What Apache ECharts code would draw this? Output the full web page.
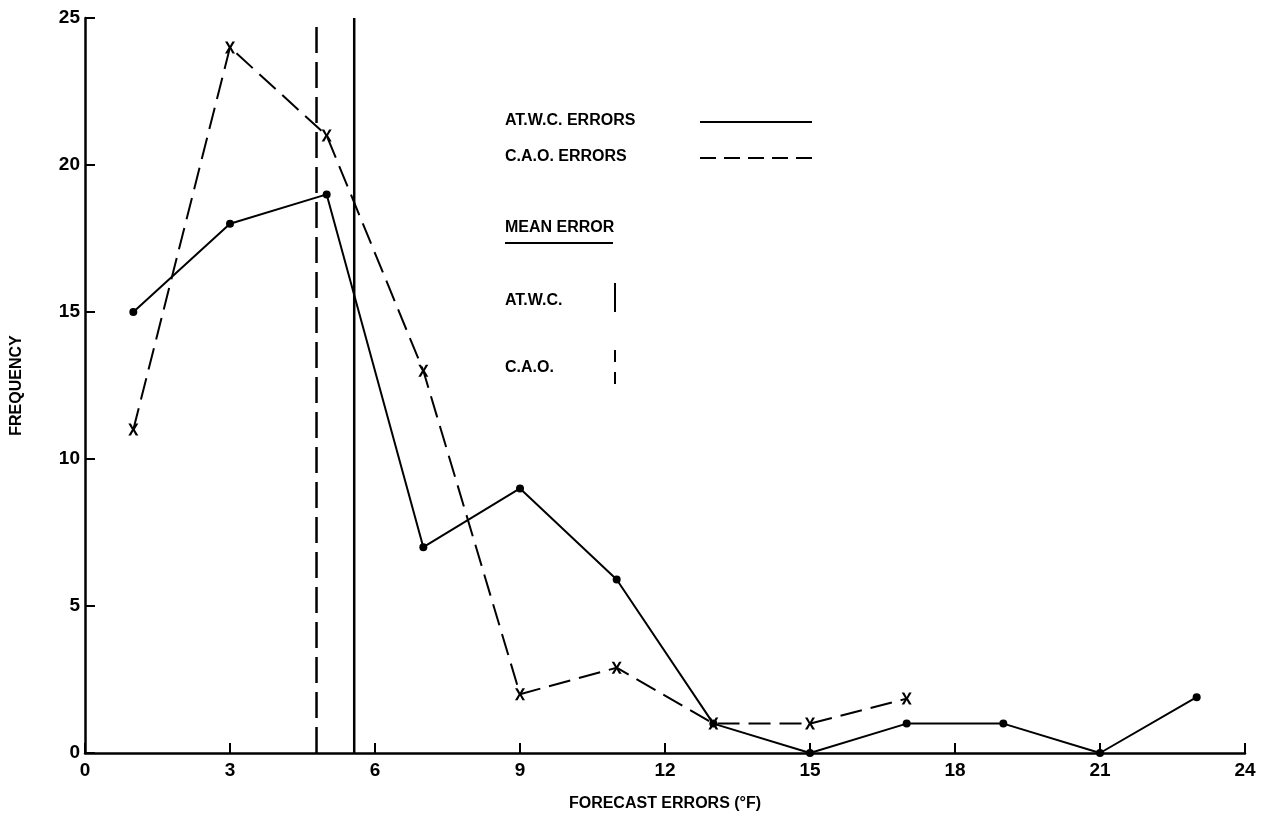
<!DOCTYPE html>
<html><head><meta charset="utf-8">
<script src="https://cdn.jsdelivr.net/npm/echarts@6/dist/echarts.min.js"></script>
<style>html,body{margin:0;padding:0;background:#fff}#c{width:1270px;height:819px}</style>
</head><body><div id="c"></div>
<script>
// Data
const errorBins = [1, 3, 5, 7, 9, 11, 13, 15, 17, 19, 21, 23];
const atwcFreq  = [15, 18, 19, 7, 9, 5.9, 1, 0, 1, 1, 0, 1.9];
const caoBins   = [1, 3, 5, 7, 9, 11, 13, 15, 17];
const caoFreq   = [11, 24, 21, 13, 2, 2.9, 1, 1, 1.85];
const meanAtwc  = 5.57;
const meanCao   = 4.79;
const xTicks    = [0, 3, 6, 9, 12, 15, 18, 21, 24];
const yTicks    = [0, 5, 10, 15, 20, 25];

const FONT = 'Liberation Sans';
const XSYM = 'path://M0,0 L2.6,0 L5,4.0 L7.4,0 L10,0 L6.4,5.5 L10,11 L7.4,11 L5,7.0 L2.6,11 L0,11 L3.6,5.5 Z';

const chart = echarts.init(document.getElementById('c'));
chart.setOption({
  animation: false,
  backgroundColor: '#fff',
  textStyle: { fontFamily: FONT, color: '#000' },
  grid: { left: 85, right: 25, top: 18, bottom: 66 },
  xAxis: {
    type: 'value', min: 0, max: 24, interval: 3,
    name: 'FORECAST ERRORS (°F)', nameLocation: 'middle', nameGap: 43,
    nameTextStyle: { fontFamily: FONT, fontSize: 16, fontWeight: 'bold', color: '#000' },
    axisLine: { lineStyle: { color: '#000', width: 2.5 } },
    axisTick: { inside: true, length: 10, lineStyle: { color: '#000', width: 2 } },
    axisLabel: { fontFamily: FONT, fontSize: 19, fontWeight: 'bold', color: '#000', margin: 8,
      formatter: v => xTicks.includes(v) ? String(v) : '' },
    splitLine: { show: false }
  },
  yAxis: {
    type: 'value', min: 0, max: 25, interval: 5,
    name: 'FREQUENCY', nameLocation: 'middle', nameGap: 60, nameRotate: 90,
    nameTextStyle: { fontFamily: FONT, fontSize: 16, fontWeight: 'bold', color: '#000' },
    axisLine: { lineStyle: { color: '#000', width: 2.5 } },
    axisTick: { inside: true, length: 10, lineStyle: { color: '#000', width: 2 } },
    axisLabel: { fontFamily: FONT, fontSize: 19, fontWeight: 'bold', color: '#000', margin: 5,
      formatter: v => yTicks.includes(v) ? String(v) : '' },
    splitLine: { show: false }
  },
  series: [
    {
      name: 'AT.W.C. ERRORS', type: 'line',
      data: errorBins.map((x, i) => [x, atwcFreq[i]]),
      symbol: 'circle', symbolSize: 8,
      itemStyle: { color: '#000' },
      lineStyle: { color: '#000', width: 2 }
    },
    {
      name: 'C.A.O. ERRORS', type: 'line',
      data: caoBins.map((x, i) => [x, caoFreq[i]]),
      symbol: XSYM, symbolSize: [10, 12],
      itemStyle: { color: '#000' },
      lineStyle: { color: '#000', width: 2, type: [22, 9] }
    },
    {
      name: 'mean atwc', type: 'line',
      data: [[meanAtwc, 0], [meanAtwc, 25]],
      symbol: 'none',
      lineStyle: { color: '#000', width: 2.5 }
    },
    {
      name: 'mean cao', type: 'line',
      data: [[meanCao, 0], [meanCao, 25]],
      symbol: 'none',
      lineStyle: { color: '#000', width: 2.5, type: [26, 9] }
    }
  ],
  graphic: [
    { type: 'text', left: 505, top: 113, style: { text: 'AT.W.C. ERRORS', font: 'bold 16px ' + FONT, fill: '#000' } },
    { type: 'line', shape: { x1: 700, y1: 122, x2: 812, y2: 122 }, style: { stroke: '#000', lineWidth: 2 } },
    { type: 'text', left: 505, top: 149, style: { text: 'C.A.O. ERRORS', font: 'bold 16px ' + FONT, fill: '#000' } },
    { type: 'line', shape: { x1: 700, y1: 158, x2: 812, y2: 158 }, style: { stroke: '#000', lineWidth: 2, lineDash: [16, 8] } },
    { type: 'text', left: 505, top: 220, style: { text: 'MEAN ERROR', font: 'bold 16px ' + FONT, fill: '#000' } },
    { type: 'line', shape: { x1: 505, y1: 243, x2: 613, y2: 243 }, style: { stroke: '#000', lineWidth: 2 } },
    { type: 'text', left: 505, top: 293, style: { text: 'AT.W.C.', font: 'bold 16px ' + FONT, fill: '#000' } },
    { type: 'line', shape: { x1: 615, y1: 283, x2: 615, y2: 312 }, style: { stroke: '#000', lineWidth: 2 } },
    { type: 'text', left: 505, top: 360, style: { text: 'C.A.O.', font: 'bold 16px ' + FONT, fill: '#000' } },
    { type: 'line', shape: { x1: 615, y1: 350, x2: 615, y2: 385 }, style: { stroke: '#000', lineWidth: 2, lineDash: [12, 10] } }
  ]
});
</script>
</body></html>
